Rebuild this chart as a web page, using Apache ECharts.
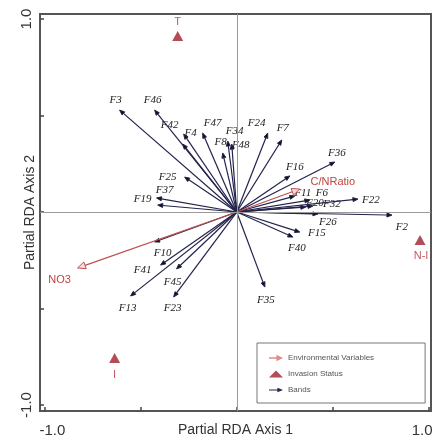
<!DOCTYPE html>
<html><head><meta charset="utf-8">
<script src="https://cdn.jsdelivr.net/npm/echarts@6/dist/echarts.min.js"></script>
<style>html,body{margin:0;padding:0;background:#fff}#c{width:433px;height:439px}</style>
</head><body><div id="c"></div>
<script>
// ---------------- DATA ----------------
const bandNames = ['F3','F46','F42','F4','F47','F8','F34','F48','F24','F7','F16','F36','F11','F6','F20','F32','F22','F2','F26','F15','F40','F35','F25','F37','F19','F10','F41','F45','F13','F23'];
const bandAxis1 = [-0.609,-0.427,-0.276,-0.281,-0.177,-0.073,-0.047,-0.026,0.161,0.234,0.276,0.510,0.302,0.380,0.359,0.396,0.630,0.807,0.422,0.328,0.292,0.146,-0.271,-0.417,-0.411,-0.427,-0.396,-0.313,-0.552,-0.328];
const bandAxis2 = [0.528,0.528,0.404,0.352,0.409,0.306,0.368,0.352,0.409,0.373,0.187,0.259,0.083,0.062,0.026,0.031,0.067,-0.016,-0.010,-0.104,-0.130,-0.389,0.181,0.073,0.036,-0.155,-0.275,-0.295,-0.435,-0.440];

const envNames = ['NO3','C/NRatio'];
const envAxis1 = [-0.828, 0.328];
const envAxis2 = [-0.290, 0.119];

const statusNames = ['T','N-I','I'];
const statusAxis1 = [-0.307, 0.953, -0.635];
const statusAxis2 = [0.912, -0.145, -0.756];

const tickValues = [-1, -0.5, 0, 0.5, 1];
const labelValues = [-1, 1];
const tickLabels = ['-1.0', '1.0'];

// ---------------- LAYOUT / STYLE ----------------
const bandLabelOffset = {
  F3:[-4,-10], F46:[-2,-10], F42:[-14,-9], F4:[8,-11], F47:[10,-10], F8:[-2,-11], F34:[7,-10], F48:[9,1],
  F24:[-11,-10], F7:[1,-12], F16:[5,-9], F36:[2,-9], F11:[8,-3], F6:[12,-7], F20:[9,-4], F32:[19,-2],
  F22:[13,1], F2:[10,12], F26:[10,8], F15:[17,1], F40:[4,11], F35:[1,13], F25:[-17,0], F37:[8,-8],
  F19:[-15,-6], F10:[8,11], F41:[-18,5], F45:[-4,13], F13:[-3,12], F23:[-1,11]
};
const envLabelOffset = {'NO3':[-18,12], 'C/NRatio':[33,-7]};
const statusLabelOffset = {'T':[0,-14], 'N-I':[1,16], 'I':[0,17]};

const bandColor = '#23234d';
const envColor = '#c0504f';
const statusColor = '#a11f2e';

function arrowRenderer(o) {
  return function (params, api) {
    const x = api.value(0), y = api.value(1);
    const name = o.names[params.dataIndex];
    const p0 = api.coord([0, 0]), p1 = api.coord([x, y]);
    const dx = p1[0]-p0[0], dy = p1[1]-p0[1];
    const len = Math.hypot(dx, dy) || 1;
    const ux = dx/len, uy = dy/len;
    const base = [p1[0]-ux*o.headLen, p1[1]-uy*o.headLen];
    const l = [base[0]-uy*o.headW/2, base[1]+ux*o.headW/2];
    const r = [base[0]+uy*o.headW/2, base[1]-ux*o.headW/2];
    const off = o.offsets[name] || [0, 0];
    return {
      type: 'group',
      children: [
        {type:'line', shape:{x1:p0[0], y1:p0[1], x2:base[0], y2:base[1]}, style:{stroke:o.color, lineWidth:o.lw}},
        {type:'polygon', shape:{points:[p1, l, r]}, style:{fill:o.headFill, stroke:o.color, lineWidth:1}},
        {type:'text', x:p1[0]+off[0], y:p1[1]+off[1],
          style:{text:name, align:'center', verticalAlign:'middle', fill:o.textColor,
                 font:o.font}}
      ]
    };
  };
}

const chart = echarts.init(document.getElementById('c'), null, {renderer:'canvas'});
chart.setOption({
  animation: false,
  grid: {left:40, right:2, top:14, bottom:28, show:true, borderColor:'#555', borderWidth:2, backgroundColor:'#fff',
         containLabel:false, outerBoundsMode:'none'},
  xAxis: {
    type:'value', min:-1.023, max:1.01, position:'bottom',
    splitLine:{show:false},
    axisLine:{show:false, onZero:false},
    axisTick:{show:true, inside:true, length:4, customValues:tickValues, lineStyle:{color:'#444', width:1.5}},
    axisLabel:{customValues:labelValues, margin:12, fontSize:15, color:'#333', fontFamily:'Liberation Sans',
      formatter: v => (v < 0 ? '{a|' + tickLabels[0] + '}' : '{b|' + tickLabels[1] + '}'),
      rich:{a:{fontSize:15, color:'#333', padding:[0,0,0,16]}, b:{fontSize:15, color:'#333', padding:[0,14,0,0]}}},
    name:'Partial RDA Axis 1', nameLocation:'middle', nameGap:19, nameMoveOverlap:false,
    nameTextStyle:{fontSize:14, color:'#333', fontFamily:'Liberation Sans', verticalAlign:'middle'}
  },
  yAxis: {
    type:'value', min:-1.031, max:1.026, position:'left',
    splitLine:{show:false},
    axisLine:{show:false, onZero:false},
    axisTick:{show:true, inside:true, length:4, customValues:tickValues, lineStyle:{color:'#444', width:1.5}},
    axisLabel:{customValues:labelValues, rotate:90, margin:6, fontSize:15, color:'#333', fontFamily:'Liberation Sans',
      formatter: v => (v < 0 ? tickLabels[0] : tickLabels[1])},
    name:'Partial RDA Axis 2', nameLocation:'middle', nameGap:10, nameRotate:90, nameMoveOverlap:false,
    nameTextStyle:{fontSize:14, color:'#333', fontFamily:'Liberation Sans', verticalAlign:'middle'}
  },
  legend: {
    orient:'vertical', left:257, top:343,
    borderColor:'#777', borderWidth:1, padding:[11,51,9,12],
    itemWidth:14, itemHeight:7, itemGap:8,
    textStyle:{fontSize:8, color:'#555', fontFamily:'Liberation Sans'},
    data:[
      {name:'Environmental Variables', icon:'path://M0,3.2H9V4.8H0Z M8,0.5L15,4L8,7.5Z'},
      {name:'Invasion Status', icon:'triangle'},
      {name:'Bands', icon:'path://M0,3.4H10V4.6H0Z M9,1.5L15,4L9,6.5Z'}
    ]
  },
  series: [
    {
      name:'Bands', type:'custom', coordinateSystem:'cartesian2d',
      itemStyle:{color:bandColor},
      data: bandNames.map((n, i) => [bandAxis1[i], bandAxis2[i]]),
      renderItem: arrowRenderer({names:bandNames, offsets:bandLabelOffset, color:bandColor, headFill:'#111',
        lw:1.2, headLen:5, headW:4, textColor:'#222', font:'italic 11px "Liberation Serif"'}),
      markLine:{silent:true, symbol:'none', label:{show:false},
        lineStyle:{color:'#9a9a9a', width:1, type:'solid'},
        data:[{xAxis:0}, {yAxis:0}]},
      z:3
    },
    {
      name:'Environmental Variables', type:'custom', coordinateSystem:'cartesian2d',
      itemStyle:{color:'#e08a8a'},
      data: envNames.map((n, i) => [envAxis1[i], envAxis2[i]]),
      renderItem: arrowRenderer({names:envNames, offsets:envLabelOffset, color:envColor, headFill:'#f6dede',
        lw:1.2, headLen:8, headW:7, textColor:'#c0453f', font:'11px "Liberation Sans"'}),
      z:4
    },
    {
      name:'Invasion Status', type:'scatter',
      symbol:'triangle', symbolSize:[11,10],
      itemStyle:{color:statusColor},
      data: statusNames.map((n, i) => ({value:[statusAxis1[i], statusAxis2[i]],
        label:{show:true, formatter:n, position:'inside', offset:statusLabelOffset[n],
          color:'#b5303a', fontSize:11, fontFamily:'Liberation Sans'}})),
      z:5
    }
  ]
});
</script></body></html>
